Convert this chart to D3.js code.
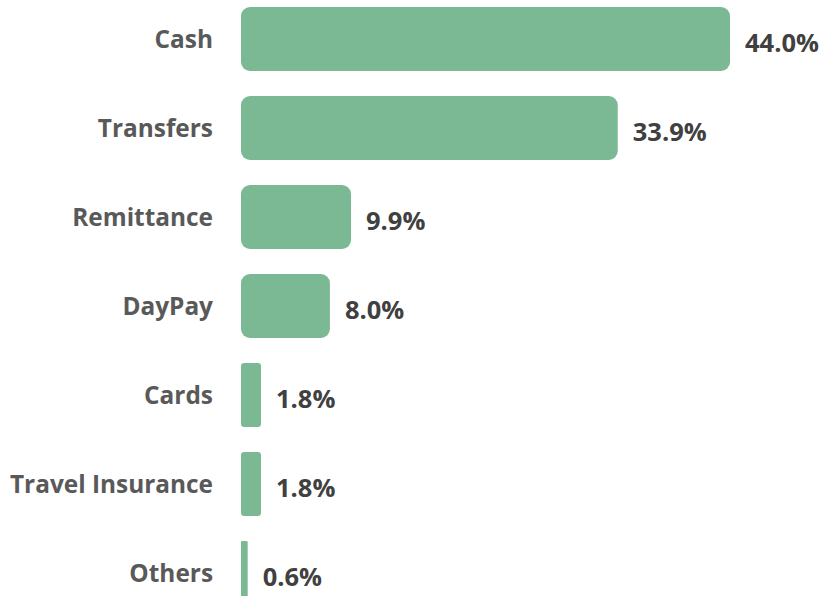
<!DOCTYPE html>
<html>
<head>
<meta charset="utf-8">
<script src="https://cdnjs.cloudflare.com/ajax/libs/d3/7.8.5/d3.min.js"></script>
<style>
  body { margin: 0; background: #fff; }
  .cat { font-family: "Open Sans", sans-serif; font-weight: 700; font-size: 24.4px; fill: #595959; }
  .val { font-family: "Open Sans", sans-serif; font-weight: 700; font-size: 25.5px; fill: #404040; }
</style>
</head>
<body>
<svg id="chart" width="823" height="596"></svg>
<script>
var categories = ["Cash", "Transfers", "Remittance", "DayPay", "Cards", "Travel Insurance", "Others"];
var shares = [44.0, 33.9, 9.9, 8.0, 1.8, 1.8, 0.6];
var valueLabels = ["44.0%", "33.9%", "9.9%", "8.0%", "1.8%", "1.8%", "0.6%"];

var svg = d3.select("#chart");
var barColor = "#7bb894";

var x = d3.scaleLinear().domain([0, 44]).range([241, 730]);
var y = d3.scaleBand().domain(categories).range([-5.5, 617.5]).paddingInner(0.281).paddingOuter(0.1405);

var rows = svg.selectAll("g.row")
    .data(categories)
    .enter()
    .append("g")
    .attr("class", "row");

rows.append("rect")
    .attr("x", x(0))
    .attr("y", function(d) { return y(d); })
    .attr("width", function(d, i) { return x(shares[i]) - x(0); })
    .attr("height", y.bandwidth())
    .attr("rx", function(d, i) { return Math.min(9, (x(shares[i]) - x(0)) / 6); })
    .attr("fill", barColor);

rows.append("text")
    .attr("class", "cat")
    .attr("x", 213)
    .attr("y", function(d) { return y(d) + y.bandwidth() / 2; })
    .attr("dy", "0.35em")
    .style("text-anchor", "end")
    .text(function(d) { return d; });

rows.append("text")
    .attr("class", "val")
    .attr("x", function(d, i) { return x(shares[i]) + 15; })
    .attr("y", function(d) { return y(d) + y.bandwidth() / 2 + 4; })
    .attr("dy", "0.35em")
    .text(function(d, i) { return valueLabels[i]; });
</script>
</body>
</html>
